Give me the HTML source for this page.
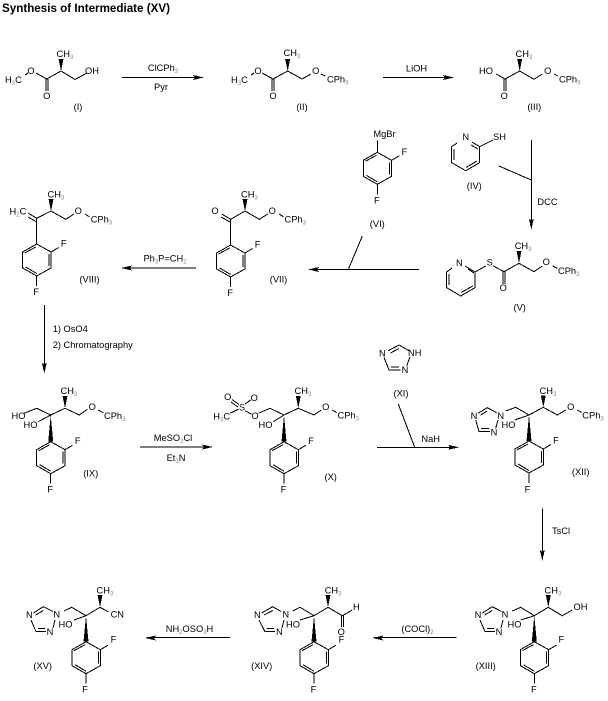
<!DOCTYPE html>
<html><head><meta charset="utf-8"><style>
html,body{margin:0;padding:0;background:#fff}
svg{display:block}
text{font-family:"Liberation Sans",sans-serif;font-size:9.3px;fill:#000}
.m{text-anchor:middle}
.s{font-size:6px;fill:#888}
.t{font-weight:bold;font-size:11.5px}
path{fill:none;stroke:#000;stroke-width:1;shape-rendering:crispEdges}
polygon{fill:#000;stroke:none;shape-rendering:crispEdges}
</style></head><body>
<svg width="608" height="701" viewBox="0 0 608 701" xmlns="http://www.w3.org/2000/svg">
<text x="2" y="12" class="t" textLength="168" lengthAdjust="spacingAndGlyphs">Synthesis of Intermediate (XV)</text>

<!-- I -->
<path d="M25 75L28 73M36 73L46.7 79L61 71L75 79.5L87 73M46 79V91M48 79V91"/>
<polygon points="61,71 58.5,59 63.5,59"/>
<text x="5" y="83">H<tspan class="s" dy="2">3</tspan><tspan dy="-2">C</tspan></text>
<text x="31" y="74" class="m">O</text><text x="46.7" y="99" class="m">O</text>
<text x="56.5" y="57">CH<tspan class="s" dy="2">3</tspan></text>
<text x="85" y="74">OH</text><text x="78" y="110" class="m">(I)</text>

<path d="M122 77.5H202"/><polygon points="204,77.5 193,75 195,77.5 193,80"/>
<text x="163" y="71" class="m">ClCPh<tspan class="s" dy="2">3</tspan></text>
<text x="161" y="90" class="m">Pyr</text>

<!-- II -->
<path d="M251 75L254 73M262 73L273 79L287.7 71L302 79L311 74M320.7 74L325.3 76M272 79V91M274 79V91"/>
<polygon points="287.7,71 285.2,59 290.2,59"/>
<text x="231" y="83">H<tspan class="s" dy="2">3</tspan><tspan dy="-2">C</tspan></text>
<text x="258" y="74" class="m">O</text><text x="273" y="99" class="m">O</text>
<text x="283.5" y="56">CH<tspan class="s" dy="2">3</tspan></text>
<text x="315.7" y="74" class="m">O</text>
<text x="327" y="82.5">CPh<tspan class="s" dy="2">3</tspan></text>
<text x="302" y="110" class="m">(II)</text>

<path d="M383 77.5H452"/><polygon points="454,77.5 443,75 445,77.5 443,80"/>
<text x="416.5" y="71.5" class="m">LiOH</text>

<!-- III -->
<path d="M496.3 74L505 79L519.7 71L534 79.3L542.3 74M554 74L558 76M504 79V91M506 79V91"/>
<polygon points="519.7,71 517.2,59 522.2,59"/>
<text x="479" y="74">HO</text><text x="504.3" y="99" class="m">O</text>
<text x="515.5" y="57">CH<tspan class="s" dy="2">3</tspan></text>
<text x="547.7" y="74" class="m">O</text>
<text x="559" y="82.5">CPh<tspan class="s" dy="2">3</tspan></text>
<text x="534.3" y="110" class="m">(III)</text>

<!-- VIII -->
<path d="M36.7 218.3L28 213M36.7 222L28 217M36.7 218.3L51 211L65.7 219.3L74 214M85 214L89.3 216.7M36.7 218.3V244"/>
<polygon points="51,211 48.5,199 53.5,199"/>
<text x="9.5" y="214.5">H<tspan class="s" dy="2">2</tspan><tspan dy="-2">C</tspan></text>
<text x="47.5" y="197.5">CH<tspan class="s" dy="2">3</tspan></text>
<text x="78.3" y="214" class="m">O</text>
<text x="90.7" y="222.5">CPh<tspan class="s" dy="2">3</tspan></text>
<g transform="translate(36.7 244)"><path d="M0 0L14.3 8V24L0 32L-14 24V8ZM-12 9L-1 3M12.3 10V22M-11 23L0 29.5M14.3 8L22 3.5M0 32V42"/><text x="27" y="2.5" class="m">F</text><text x="-0.5" y="51" class="m">F</text></g>
<text x="89.5" y="282.5" class="m">(VIII)</text>

<!-- VII -->
<path d="M230.7 219.3L221.7 214M230 222L221 217M230.7 219.3L245 211L259.3 219.3L267.7 214M279.3 214L283.3 216.7M230.7 219.3V245"/>
<polygon points="245,211 242.5,199 247.5,199"/>
<text x="215" y="214" class="m">O</text>
<text x="241" y="197.5">CH<tspan class="s" dy="2">3</tspan></text>
<text x="272.3" y="214" class="m">O</text>
<text x="284.5" y="222.5">CPh<tspan class="s" dy="2">3</tspan></text>
<g transform="translate(230.6 245)"><path d="M0 0L14.3 8V24L0 32L-14 24V8ZM-12 9L-1 3M12.3 10V22M-11 23L0 29.5M14.3 8L22 3.5M0 32V42"/><text x="27" y="2.5" class="m">F</text><text x="-0.5" y="51" class="m">F</text></g>
<text x="278.5" y="282.5" class="m">(VII)</text>

<path d="M196 268H123"/><polygon points="121,268 132,265.5 130,268 132,270.5"/>
<text x="165" y="261.5" class="m">Ph<tspan class="s" dy="2">3</tspan><tspan dy="-2">P=CH</tspan><tspan class="s" dy="2">2</tspan></text>

<!-- VI -->
<g transform="translate(377.3 152.3)"><path d="M0 0L14.3 8V24L0 32L-14 24V8ZM-12 9L-1 3M12.3 10V22M-11 23L0 29.5M14.3 8L22 3.5M0 32V42M0 0V-12"/><text x="27" y="2.5" class="m">F</text><text x="-0.5" y="51" class="m">F</text></g>
<text x="384.5" y="137" class="m">MgBr</text>
<text x="377.3" y="227" class="m">(VI)</text>

<!-- IV -->
<path d="M457 143L451.7 146.7V162.7L465.7 170.7L479.7 162.7V146.7L472 142M454 149V160M466 167.5L477 161M471 145L478 149M479.7 146.7L493 140"/>
<text x="465.7" y="140" class="m">N</text><text x="493" y="140">SH</text>
<text x="474.3" y="189" class="m">(IV)</text>

<path d="M531.3 140V227M498.3 165.7L531.3 180"/><polygon points="531.3,229.5 528.8,218.5 531.3,220.5 533.8,218.5"/>
<text x="547.5" y="205" class="m">DCC</text>

<path d="M419 269.5H310M362.3 236L348.3 269.5"/><polygon points="308,269.5 319,267 317,269.5 319,272"/>

<!-- V -->
<path d="M452 268L446.7 272V287.7L460.7 296L475 287.7V272L465 266M449 274V285M461 292.5L473 286M468 269L474 273M475 272L485.7 266M493 265.7L504 271.7L519 263.3L534 271.7L542.3 266M552.3 265.7L557.3 268.3M503 271.7V284M505 271.7V284"/>
<polygon points="519,263.3 516.5,251 521.5,251"/>
<text x="459.3" y="266" class="m">N</text><text x="489.7" y="265.5" class="m">S</text>
<text x="503.3" y="291" class="m">O</text>
<text x="514.7" y="249">CH<tspan class="s" dy="2">3</tspan></text>
<text x="546.3" y="265" class="m">O</text>
<text x="558" y="274">CPh<tspan class="s" dy="2">3</tspan></text>
<text x="519.7" y="310.5" class="m">(V)</text>

<path d="M44.3 305V371"/><polygon points="44.3,373.5 41.8,362.5 44.3,364.5 46.8,362.5"/>
<text x="52.7" y="332">1) OsO4</text>
<text x="52.7" y="348">2) Chromatography</text>

<!-- IX -->
<path d="M24 413.3L36.7 408.3L50.7 415L65 408.3L79.3 415L87.3 409.3M98.3 410L103.3 412.7M38.3 421.7L50.7 415"/>
<polygon points="65,408.3 62.5,396 67.5,396"/><polygon points="50.7,415 48.2,441.7 53.2,441.7"/>
<text x="11.5" y="419">HO</text><text x="23.5" y="428">HO</text>
<text x="60.5" y="394">CH<tspan class="s" dy="2">3</tspan></text>
<text x="92.3" y="410" class="m">O</text>
<text x="104" y="419">CPh<tspan class="s" dy="2">3</tspan></text>
<g transform="translate(50.7 441.7)"><path d="M0 0L14.3 8V24L0 32L-14 24V8ZM-12 9L-1 3M12.3 10V22M-11 23L0 29.5M14.3 8L22 3.5M0 32V42"/><text x="27" y="2.5" class="m">F</text><text x="-0.5" y="51" class="m">F</text></g>
<text x="90.7" y="476.5" class="m">(IX)</text>

<path d="M140 447H211"/><polygon points="213,447 202,444.5 204,447 202,449.5"/>
<text x="173" y="441" class="m">MeSO<tspan class="s" dy="2">2</tspan><tspan dy="-2">Cl</tspan></text>
<text x="176" y="461" class="m">Et<tspan class="s" dy="2">3</tspan><tspan dy="-2">N</tspan></text>

<!-- X -->
<path d="M232 399.5L239 404.5M231 402L238 407M250.7 400L245 404M230 413.3L238.3 409.3M245 410.7L251.7 414.3M258.3 413.3L270 408.3L284 415L298.3 408.3L314 415L321.3 410M332.3 410L336.7 412.7M273.3 421.7L284 415"/>
<polygon points="298.3,408.3 295.8,396 300.8,396"/><polygon points="284,415 281.5,441.7 286.5,441.7"/>
<text x="227.7" y="400" class="m">O</text><text x="254.3" y="401" class="m">O</text>
<text x="242" y="410.5" class="m">S</text>
<text x="213.3" y="419.5">H<tspan class="s" dy="2">3</tspan><tspan dy="-2">C</tspan></text>
<text x="255" y="419" class="m">O</text>
<text x="258.5" y="428">HO</text>
<text x="294.5" y="394">CH<tspan class="s" dy="2">3</tspan></text>
<text x="325.7" y="410" class="m">O</text>
<text x="337.5" y="418.5">CPh<tspan class="s" dy="2">3</tspan></text>
<g transform="translate(284 441.7)"><path d="M0 0L14.3 8V24L0 32L-14 24V8ZM-12 9L-1 3M12.3 10V22M-11 23L0 29.5M14.3 8L22 3.5M0 32V42"/><text x="27" y="2.5" class="m">F</text><text x="-0.5" y="51" class="m">F</text></g>
<text x="330.7" y="480" class="m">(X)</text>

<!-- XI -->
<path d="M388.3 350.7L399 345L409 350.7M390.5 353L399 348.5M410 356.7L406.7 366M400.7 370H389L384 357.3M399 367H391"/>
<text x="382.3" y="356.5" class="m">N</text><text x="408" y="356">NH</text><text x="405" y="373" class="m">N</text>
<text x="401" y="396.5" class="m">(XI)</text>

<path d="M377 447.3H457M398.3 404L414.7 447.3"/><polygon points="459,447.3 448,444.8 450,447.3 448,449.8"/>
<text x="430.7" y="442" class="m">NaH</text>

<!-- XII -->
<path d="M478 413.3L487.3 407.7L496.7 412.7M480.5 415L487.3 411M475.7 420L479 431.7H490M481 428.7H489M498 420L495.7 428.3M505.7 411L515.7 407.3L529 415L543.3 407.3L557.3 415L565.7 410M577.3 410L581.3 412.3M514.7 420L529 415"/>
<polygon points="543.3,407.3 540.8,395.5 545.8,395.5"/><polygon points="529,415 526.5,441 531.5,441"/>
<text x="474" y="419" class="m">N</text><text x="500.7" y="419" class="m">N</text><text x="494" y="435.5" class="m">N</text>
<text x="501.5" y="428">HO</text>
<text x="539.5" y="394">CH<tspan class="s" dy="2">3</tspan></text>
<text x="570.7" y="410" class="m">O</text>
<text x="582.3" y="418.5">CPh<tspan class="s" dy="2">3</tspan></text>
<g transform="translate(529 441)"><path d="M0 0L14.3 8V24L0 32L-14 24V8ZM-12 9L-1 3M12.3 10V22M-11 23L0 29.5M14.3 8L22 3.5M0 32V42"/><text x="27" y="2.5" class="m">F</text><text x="-1.5" y="51.5" class="m">F</text></g>
<text x="580.7" y="475" class="m">(XII)</text>

<path d="M542.3 508.3V558.5"/><polygon points="542.3,560.8 539.8,549.8 542.3,551.8 544.8,549.8"/>
<text x="561" y="534" class="m">TsCl</text>

<!-- XIII -->
<path d="M482.5 613L492.3 606.7L501.5 611.5M484.5 615L492.3 610.5M480 620L485 631.7H495M487 628.7H494M503 620L501 628M512.3 611L520.7 607.3L534.3 615.7L548.3 607.3L562.3 615.7L572.3 610M520.7 620L534.3 615.7"/>
<polygon points="548.3,607.3 545.8,595 550.8,595"/><polygon points="534.3,615.7 531.8,641.7 536.8,641.7"/>
<text x="478" y="618" class="m">N</text><text x="505" y="617.5" class="m">N</text><text x="499" y="635" class="m">N</text>
<text x="507.5" y="627.5">HO</text>
<text x="544.5" y="593.5">CH<tspan class="s" dy="2">3</tspan></text>
<text x="573.5" y="610">OH</text>
<g transform="translate(534.3 641.7)"><path d="M0 0L14.3 8V24L0 32L-14 24V8ZM-12 9L-1 3M12.3 10V22M-11 23L0 29.5M14.3 8L22 3.5M0 32V42"/><text x="27" y="1" class="m">F</text><text x="-0.5" y="51" class="m">F</text></g>
<text x="485.7" y="669" class="m">(XIII)</text>

<path d="M456.7 637.5H374"/><polygon points="372.3,638 383.3,635.5 381.3,638 383.3,640.5"/>
<text x="417.5" y="632" class="m">(COCl)<tspan class="s" dy="2">2</tspan></text>

<!-- XIV -->
<path d="M261.7 613L272.7 606.7L281 611.5M264 615L272.7 610.5M259 620L265 631.7H275M267 628.7H274M284 620L282 628M292.7 611L300 607.3L314 615.7L328 607.3L342.3 615.7L352.3 610M300 620L314 615.7M341.3 615.7V627M343.3 615.7V627"/>
<polygon points="328,607.3 325.5,595 330.5,595"/><polygon points="314,615.7 311.5,641.7 316.5,641.7"/>
<text x="257.3" y="618" class="m">N</text><text x="285.7" y="617.5" class="m">N</text><text x="279.3" y="635" class="m">N</text>
<text x="286" y="627.5">HO</text>
<text x="324.7" y="593.5">CH<tspan class="s" dy="2">3</tspan></text>
<text x="356.3" y="610" class="m">H</text>
<text x="341.3" y="635" class="m">O</text>
<g transform="translate(314 641.7)"><path d="M0 0L14.3 8V24L0 32L-14 24V8ZM-12 9L-1 3M12.3 10V22M-11 23L0 29.5M14.3 8L22 3.5M0 32V42"/><text x="27.5" y="1" class="m">F</text><text x="-0.5" y="51" class="m">F</text></g>
<text x="261.7" y="669" class="m">(XIV)</text>

<path d="M230 637.5H147"/><polygon points="145,638 156,635.5 154,638 156,640.5"/>
<text x="189.5" y="632" class="m">NH<tspan class="s" dy="2">2</tspan><tspan dy="-2">OSO</tspan><tspan class="s" dy="2">3</tspan><tspan dy="-2">H</tspan></text>

<!-- XV -->
<path d="M33.5 613L43.3 606.7L53 611.5M35.5 615L43.3 610.5M31 620L36 631.7H46M38 628.7H45M55 620L53 628M64 611L71.7 607.3L86 615.7L100 607.3L108.3 611.7M74 620L86 615.7"/>
<polygon points="100,607.3 97.5,595 102.5,595"/><polygon points="86,615.7 83.5,641.7 88.5,641.7"/>
<text x="29.3" y="618" class="m">N</text><text x="56.7" y="617.5" class="m">N</text><text x="50" y="635" class="m">N</text>
<text x="58.5" y="627.5">HO</text>
<text x="96.5" y="593.5">CH<tspan class="s" dy="2">3</tspan></text>
<text x="117.3" y="617.5" class="m">CN</text>
<g transform="translate(86 641.7)"><path d="M0 0L14.3 8V24L0 32L-14 24V8ZM-12 9L-1 3M12.3 10V22M-11 23L0 29.5M14.3 8L22 3.5M0 32V42"/><text x="27.5" y="1" class="m">F</text><text x="-1" y="51" class="m">F</text></g>
<text x="42.7" y="669" class="m">(XV)</text>
</svg>
</body></html>
